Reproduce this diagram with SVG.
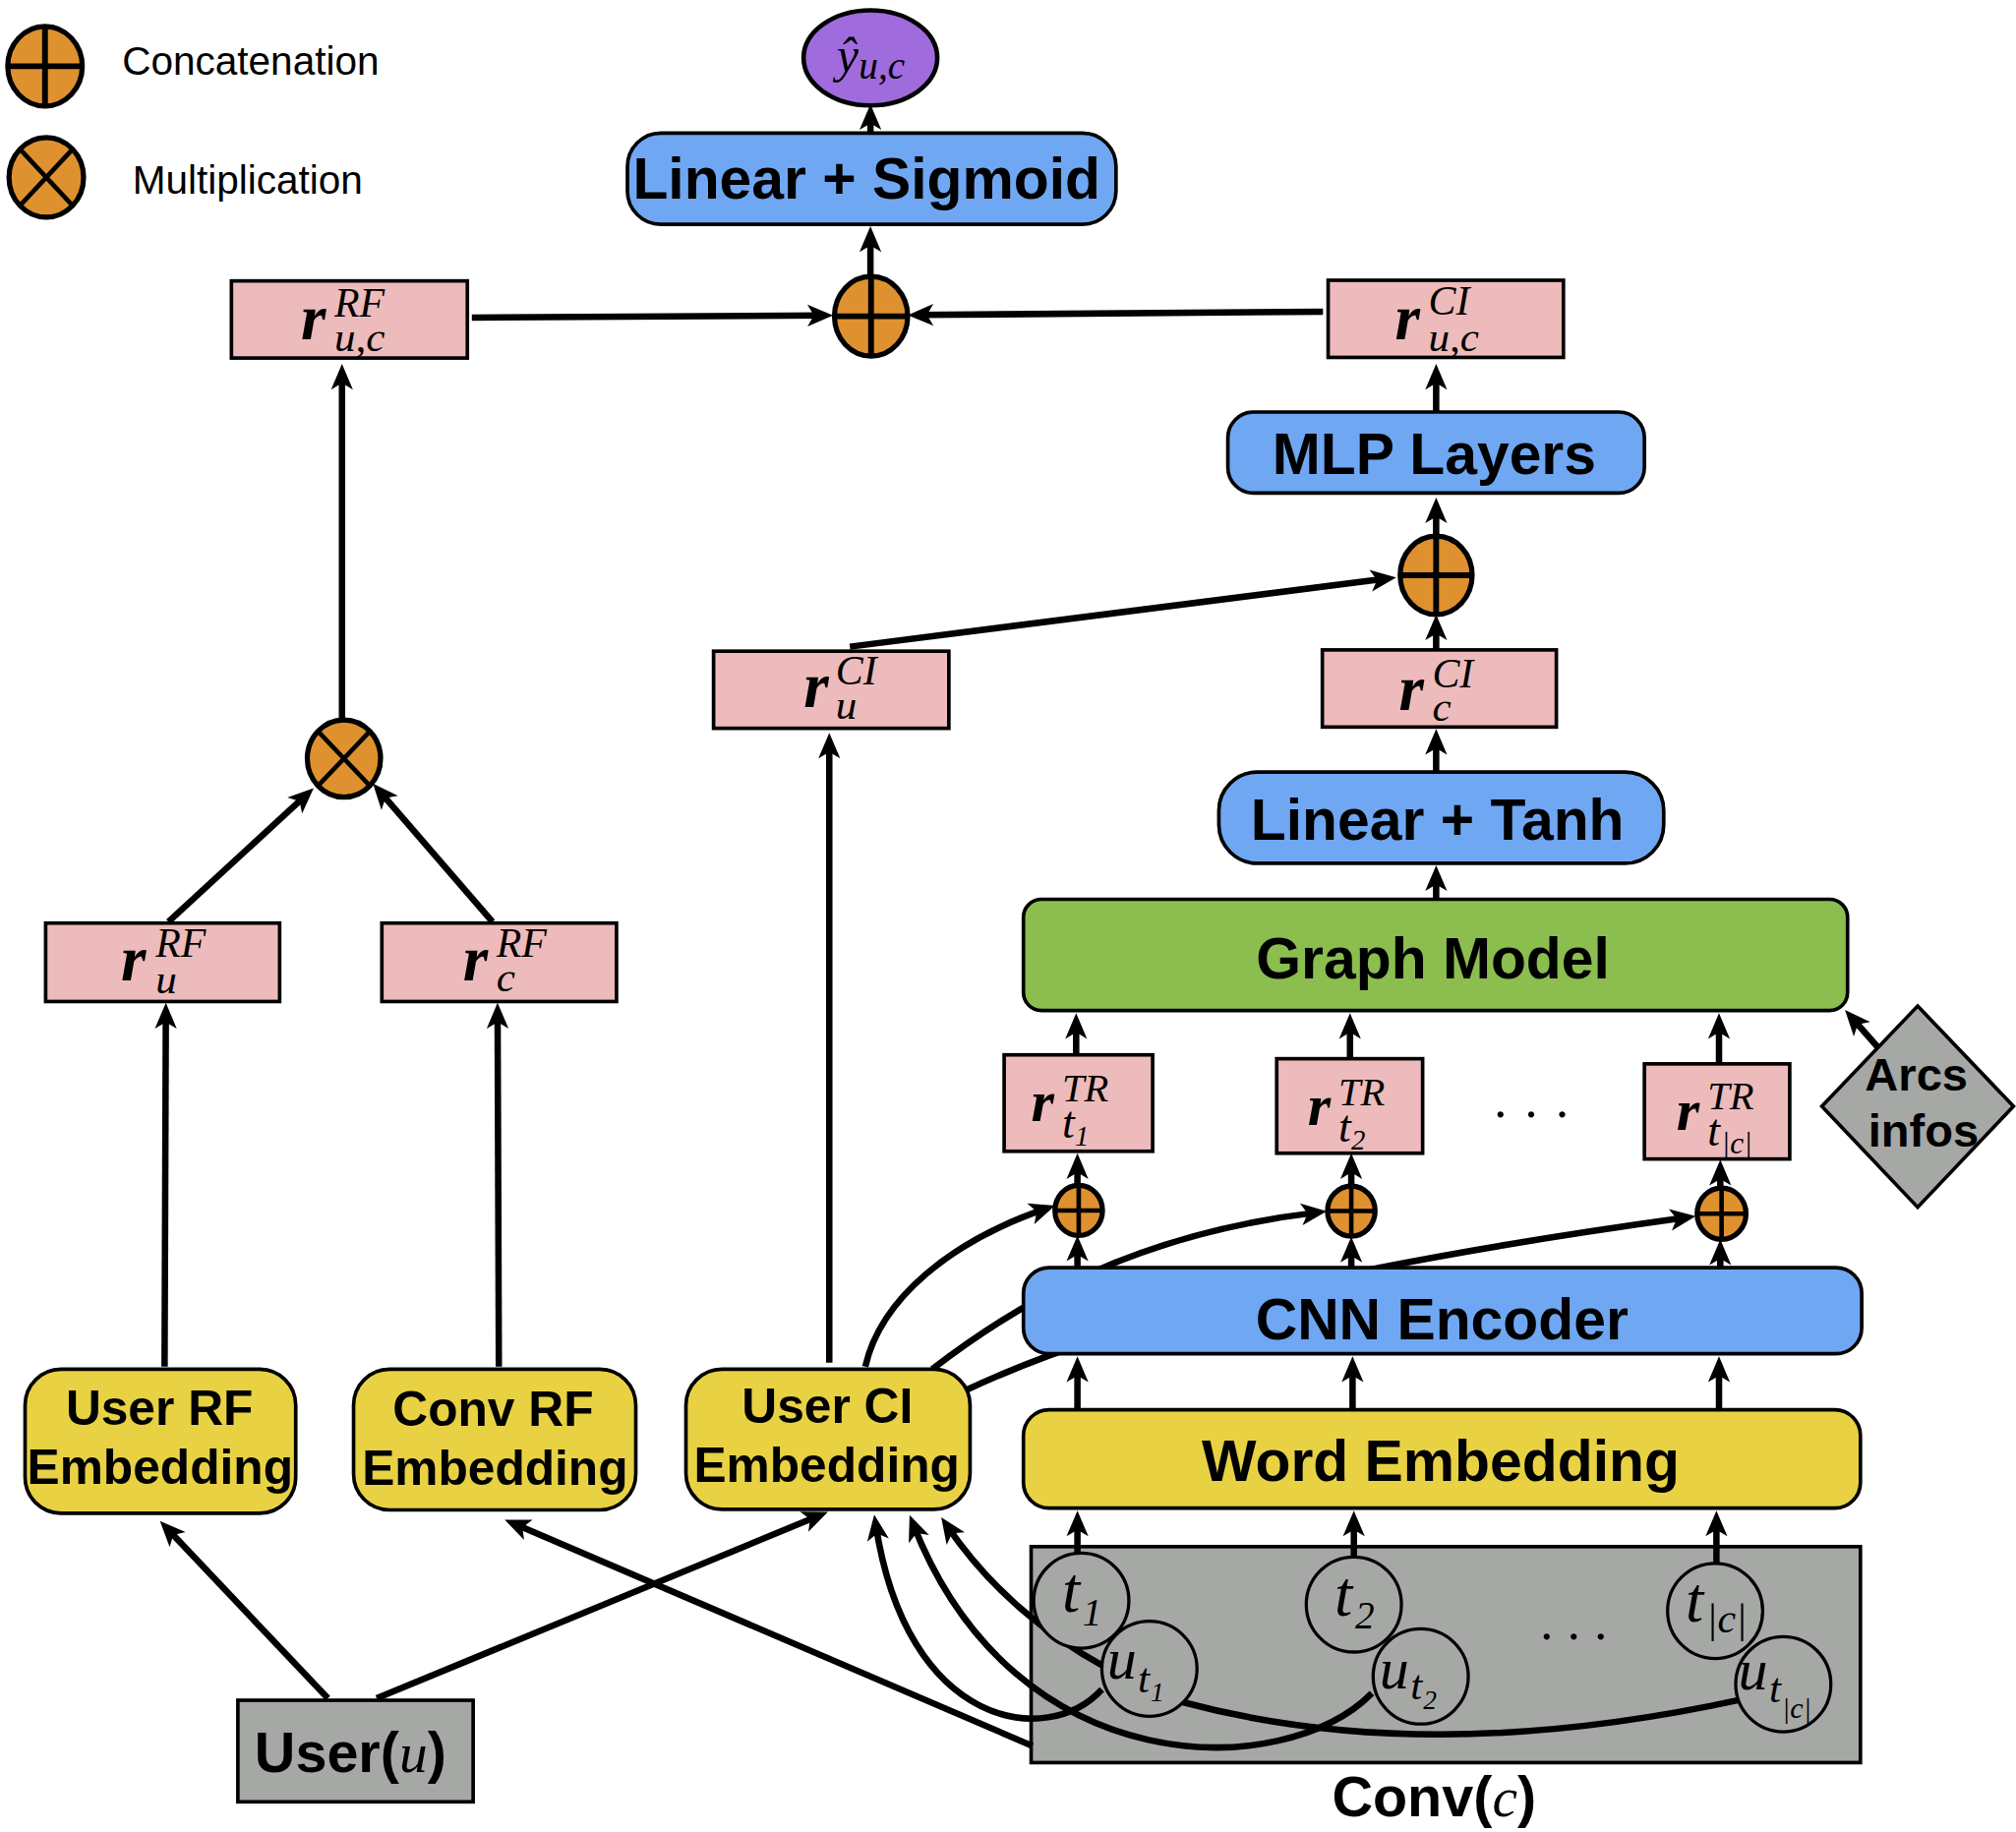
<svg xmlns="http://www.w3.org/2000/svg" width="2050" height="1863" viewBox="0 0 2050 1863">
<defs>
<marker id="ah" markerUnits="userSpaceOnUse" markerWidth="20" markerHeight="17" refX="13" refY="8.5" orient="auto" overflow="visible">
<path d="M0,0 L20,8.5 L0,17 L5,8.5 z" fill="#000"/>
</marker>
<style>
.ln{fill:none;stroke:#000;stroke-width:5;marker-end:url(#ah)}
.bx{stroke:#000;stroke-width:2.8}
.pink{fill:#EDBBBB}
.blue{fill:#70A7F3}
.yel{fill:#E8D244}
.grn{fill:#8BBE4F}
.gray{fill:#A6A8A6}
.purp{fill:#A06BDD;stroke:#000;stroke-width:3.5}
.orng{fill:#DE912E;stroke:#000;stroke-width:4}
.sym{fill:none;stroke:#000;stroke-width:4.5}
.symt{fill:none;stroke:#000;stroke-width:3.5}
.tok{fill:#A6A8A6;stroke:#000;stroke-width:2.5}
.sb{font-family:"Liberation Sans",Arial,sans-serif;font-weight:bold;fill:#000}
.sr{font-family:"Liberation Sans",Arial,sans-serif;fill:#000}
.mi{font-family:"Liberation Serif","DejaVu Serif",serif;font-style:italic;font-weight:normal;fill:#000}
.mb{font-weight:bold}
.f45{font-size:45px}
.f38{font-size:38px}
</style>
</defs>
<g transform="scale(1.30740)">

<!-- legend -->
<g id="legend-concat">
<ellipse class="orng" cx="35" cy="51.5" rx="29" ry="31"/>
<path class="sym" d="M35,20.5 V82.5 M6,51.5 H64"/>
<text class="sr" x="95" y="58" font-size="31">Concatenation</text>
</g>
<g id="legend-mult">
<ellipse class="orng" cx="36" cy="138" rx="29" ry="31"/>
<path class="symt" d="M15.5,116 L56.5,160 M56.5,116 L15.5,160"/>
<text class="sr" x="103" y="150.5" font-size="31">Multiplication</text>
</g>

<!-- Conv background (drawn under connectors) -->
<g id="conv">
<rect class="bx gray" x="802" y="1203" width="645" height="168"/>
<text class="sb" x="1036" y="1413" font-size="44">Conv(<tspan class="mi">c</tspan>)</text>
</g>

<!-- connectors -->
<g id="connectors">
<path class="ln" d="M677,104 L677,88"/>
<path class="ln" d="M677,214 L677,183"/>
<path class="ln" d="M367,247 L641,245.3"/>
<path class="ln" d="M1029,242.4 L713,245"/>
<path class="ln" d="M1117,320 L1117,290"/>
<path class="ln" d="M1117,417 L1117,394"/>
<path class="ln" d="M1117,505 L1117,485"/>
<path class="ln" d="M661,503 L1079,450"/>
<path class="ln" d="M1117,600 L1117,574"/>
<path class="ln" d="M1117,700 L1117,680"/>
<path class="ln" d="M837,821 L837,795"/>
<path class="ln" d="M1050,824 L1050,795"/>
<path class="ln" d="M1337,828 L1337,795"/>
<path class="ln" d="M1460.6,814.6 L1439.6,790.8"/>
<path class="ln" d="M838,922 L838,904"/>
<path class="ln" d="M1051,922 L1051,904"/>
<path class="ln" d="M1338,924 L1338,909"/>
<path class="ln" d="M838,986 L838,968"/>
<path class="ln" d="M1051,986 L1051,969"/>
<path class="ln" d="M1338,986 L1338,971"/>
<path class="ln" d="M838,1097 L838,1062"/>
<path class="ln" d="M1052,1097 L1052,1062"/>
<path class="ln" d="M1337,1097 L1337,1062"/>
<path class="ln" d="M838,1208 L838,1182"/>
<path class="ln" d="M1053,1212 L1053,1182"/>
<path class="ln" d="M1335,1217 L1335,1182"/>
<path class="ln" d="M645,1060 L645,577"/>
<path class="ln" d="M673,1063 C685,1010 740,965 814,940"/>
<path class="ln" d="M725,1065 C790,1015 880,960 1025,943"/>
<path class="ln" d="M752,1081 C850,1035 1000,990 1312,947"/>
<path class="ln" d="M266,560 L266,290"/>
<path class="ln" d="M131,717 L238.8,617.7"/>
<path class="ln" d="M383,717 L294.6,614.7"/>
<path class="ln" d="M128,1063 L129,787"/>
<path class="ln" d="M388,1063 L387,787"/>
<path class="ln" d="M255,1321 L129.2,1188.1"/>
<path class="ln" d="M293,1321 L637.5,1178.7"/>
<path class="ln" d="M803,1358 L399,1184.8"/>
<path class="ln" d="M857,1314 C815,1360 705,1345 681,1185"/>
<path class="ln" d="M1067,1317 C1000,1385 790,1390 710,1185"/>
<path class="ln" d="M1354,1322 Q1110,1375 920,1324 Q800,1280 736,1186"/>
</g>

<!-- top -->
<g id="y-hat">
<ellipse class="purp" cx="677" cy="45" rx="52" ry="37"/>
<text class="mi"><tspan x="651" y="56" font-size="38">ŷ</tspan><tspan x="668" y="61" font-size="30">u,c</tspan></text>
</g>
<g id="linear-sigmoid">
<rect class="bx blue" x="488" y="103.5" width="380" height="71" rx="26"/>
<text class="sb f45" x="674" y="154.5" text-anchor="middle">Linear + Sigmoid</text>
</g>
<g id="concat-main">
<ellipse class="orng" cx="677.5" cy="246" rx="28.5" ry="31"/>
<path class="sym" d="M677.5,215 V277 M649,246 H706"/>
</g>
<g id="r-rf-uc">
<rect class="bx pink" x="180" y="218.5" width="183.5" height="60"/>
<text class="mi"><tspan class="mb" x="234" y="264" font-size="50">r</tspan><tspan x="260" y="246" font-size="32">RF</tspan><tspan x="260" y="273" font-size="33">u,c</tspan></text>
</g>
<g id="r-ci-uc">
<rect class="bx pink" x="1033" y="218" width="183" height="60"/>
<text class="mi"><tspan class="mb" x="1085" y="264" font-size="50">r</tspan><tspan x="1111" y="245" font-size="32">CI</tspan><tspan x="1111" y="273" font-size="33">u,c</tspan></text>
</g>
<g id="mlp">
<rect class="bx blue" x="955" y="320.5" width="324" height="63" rx="20"/>
<text class="sb f45" x="1115.5" y="368.5" text-anchor="middle">MLP Layers</text>
</g>
<g id="concat-ci">
<ellipse class="orng" cx="1117" cy="447.5" rx="28" ry="30.5"/>
<path class="sym" d="M1117,417 V478 M1089,447.5 H1145"/>
</g>
<g id="r-ci-u">
<rect class="bx pink" x="555" y="506.5" width="183" height="60"/>
<text class="mi"><tspan class="mb" x="625" y="550" font-size="50">r</tspan><tspan x="650" y="532" font-size="32">CI</tspan><tspan x="650" y="559" font-size="33">u</tspan></text>
</g>
<g id="r-ci-c">
<rect class="bx pink" x="1028.5" y="505.5" width="182" height="60"/>
<text class="mi"><tspan class="mb" x="1088" y="552" font-size="50">r</tspan><tspan x="1114" y="535" font-size="32">CI</tspan><tspan x="1114" y="561" font-size="33">c</tspan></text>
</g>
<g id="linear-tanh">
<rect class="bx blue" x="948" y="600.5" width="346" height="71" rx="30"/>
<text class="sb f45" x="1118" y="653" text-anchor="middle">Linear + Tanh</text>
</g>
<g id="graph-model">
<rect class="bx grn" x="796" y="699.5" width="641" height="86.5" rx="14"/>
<text class="sb f45" x="1114.5" y="761" text-anchor="middle">Graph Model</text>
</g>

<!-- left branch -->
<g id="mult">
<ellipse class="orng" cx="267.5" cy="590" rx="28.5" ry="30"/>
<path class="symt" d="M247.3,568.8 L287.7,611.2 M287.7,568.8 L247.3,611.2"/>
</g>
<g id="r-rf-u">
<rect class="bx pink" x="35.5" y="718" width="182" height="61"/>
<text class="mi"><tspan class="mb" x="94" y="762.5" font-size="50">r</tspan><tspan x="121" y="744" font-size="32">RF</tspan><tspan x="121" y="772.5" font-size="33">u</tspan></text>
</g>
<g id="r-rf-c">
<rect class="bx pink" x="297" y="718" width="182.5" height="61"/>
<text class="mi"><tspan class="mb" x="360" y="762.5" font-size="50">r</tspan><tspan x="386" y="744" font-size="32">RF</tspan><tspan x="386" y="771" font-size="33">c</tspan></text>
</g>
<g id="user-rf-emb">
<rect class="bx yel" x="19.5" y="1065" width="210.5" height="112" rx="28"/>
<text class="sb f38" x="124" y="1108" text-anchor="middle">User RF</text>
<text class="sb f38" x="124.5" y="1154" text-anchor="middle">Embedding</text>
</g>
<g id="conv-rf-emb">
<rect class="bx yel" x="275" y="1065" width="219.5" height="109.5" rx="28"/>
<text class="sb f38" x="383.5" y="1109" text-anchor="middle">Conv RF</text>
<text class="sb f38" x="385" y="1155" text-anchor="middle">Embedding</text>
</g>
<g id="user-ci-emb">
<rect class="bx yel" x="533.5" y="1065" width="221" height="109" rx="28"/>
<text class="sb f38" x="643.5" y="1107" text-anchor="middle">User CI</text>
<text class="sb f38" x="643" y="1153" text-anchor="middle">Embedding</text>
</g>
<g id="user">
<rect class="bx gray" x="185" y="1322.5" width="183" height="79"/>
<text class="sb" x="198" y="1378" font-size="44">User(<tspan class="mi">u</tspan>)</text>
</g>

<!-- right branch -->
<g id="r-tr-t1">
<rect class="bx pink" x="781" y="820.5" width="115.5" height="75"/>
<text class="mi"><tspan class="mb" x="802" y="872" font-size="46">r</tspan><tspan x="826" y="856.5" font-size="31">TR</tspan><tspan x="826" y="885" font-size="35">t</tspan><tspan x="836" y="891" font-size="22">1</tspan></text>
</g>
<g id="r-tr-t2">
<rect class="bx pink" x="993" y="823.5" width="113.5" height="73.5"/>
<text class="mi"><tspan class="mb" x="1017" y="875" font-size="46">r</tspan><tspan x="1041" y="859.5" font-size="31">TR</tspan><tspan x="1041" y="888" font-size="35">t</tspan><tspan x="1051" y="894" font-size="22">2</tspan></text>
</g>
<text class="mi" x="1163" y="869" font-size="40" letter-spacing="14">...</text>
<g id="r-tr-tc">
<rect class="bx pink" x="1279" y="827.5" width="113" height="74"/>
<text class="mi"><tspan class="mb" x="1304" y="879" font-size="46">r</tspan><tspan x="1328" y="863" font-size="31">TR</tspan><tspan x="1328" y="891" font-size="35">t</tspan><tspan x="1339" y="897" font-size="24">|c|</tspan></text>
</g>
<g id="arcs-infos">
<polygon class="bx gray" points="1491.5,782.5 1566,860.5 1491.5,939 1417,860.5"/>
<text class="sb" x="1490.5" y="848" font-size="36" text-anchor="middle">Arcs</text>
<text class="sb" x="1496" y="892" font-size="36" text-anchor="middle">infos</text>
</g>
<g id="concat-t1">
<ellipse class="orng" cx="839" cy="941.5" rx="18.5" ry="19.5" stroke-width="3.5"/>
<path class="symt" d="M839,922 V961 M820.5,941.5 H857.5"/>
</g>
<g id="concat-t2">
<ellipse class="orng" cx="1051" cy="942" rx="18.5" ry="19.5" stroke-width="3.5"/>
<path class="symt" d="M1051,922.5 V961.5 M1032.5,942 H1069.5"/>
</g>
<g id="concat-tc">
<ellipse class="orng" cx="1339" cy="944" rx="19" ry="20" stroke-width="3.5"/>
<path class="symt" d="M1339,924 V964 M1320,944 H1358"/>
</g>
<g id="cnn-encoder">
<rect class="bx blue" x="796" y="986" width="652" height="67" rx="20"/>
<text class="sb f45" x="1121.5" y="1042" text-anchor="middle">CNN Encoder</text>
</g>
<g id="word-embedding">
<rect class="bx yel" x="796" y="1096.5" width="651" height="76.5" rx="20"/>
<text class="sb f45" x="1120.5" y="1152" text-anchor="middle">Word Embedding</text>
</g>

<!-- tokens inside Conv -->
<g id="tok-t1">
<circle class="tok" cx="841" cy="1245" r="37"/>
<text class="mi"><tspan x="826" y="1254" font-size="50">t</tspan><tspan x="842" y="1264" font-size="30">1</tspan></text>
</g>
<g id="tok-ut1">
<circle class="tok" cx="894" cy="1298" r="37"/>
<text class="mi"><tspan x="861" y="1306" font-size="46">u</tspan><tspan x="885" y="1316" font-size="33">t</tspan><tspan x="895" y="1323" font-size="21">1</tspan></text>
</g>
<g id="tok-t2">
<circle class="tok" cx="1053" cy="1248" r="37"/>
<text class="mi"><tspan x="1038" y="1257" font-size="50">t</tspan><tspan x="1054" y="1267" font-size="30">2</tspan></text>
</g>
<g id="tok-ut2">
<circle class="tok" cx="1105" cy="1304" r="37"/>
<text class="mi"><tspan x="1073" y="1313" font-size="46">u</tspan><tspan x="1097" y="1322" font-size="33">t</tspan><tspan x="1107" y="1329" font-size="21">2</tspan></text>
</g>
<text class="mi" x="1199" y="1275" font-size="40" letter-spacing="11">...</text>
<g id="tok-tc">
<circle class="tok" cx="1334" cy="1253" r="37"/>
<text class="mi"><tspan x="1311" y="1261" font-size="50">t</tspan><tspan x="1327" y="1270" font-size="32">|c|</tspan></text>
</g>
<g id="tok-utc">
<circle class="tok" cx="1387" cy="1310" r="37"/>
<text class="mi"><tspan x="1352" y="1314" font-size="46">u</tspan><tspan x="1376" y="1324" font-size="33">t</tspan><tspan x="1386" y="1336" font-size="23">|c|</tspan></text>
</g>

</g>
</svg>
